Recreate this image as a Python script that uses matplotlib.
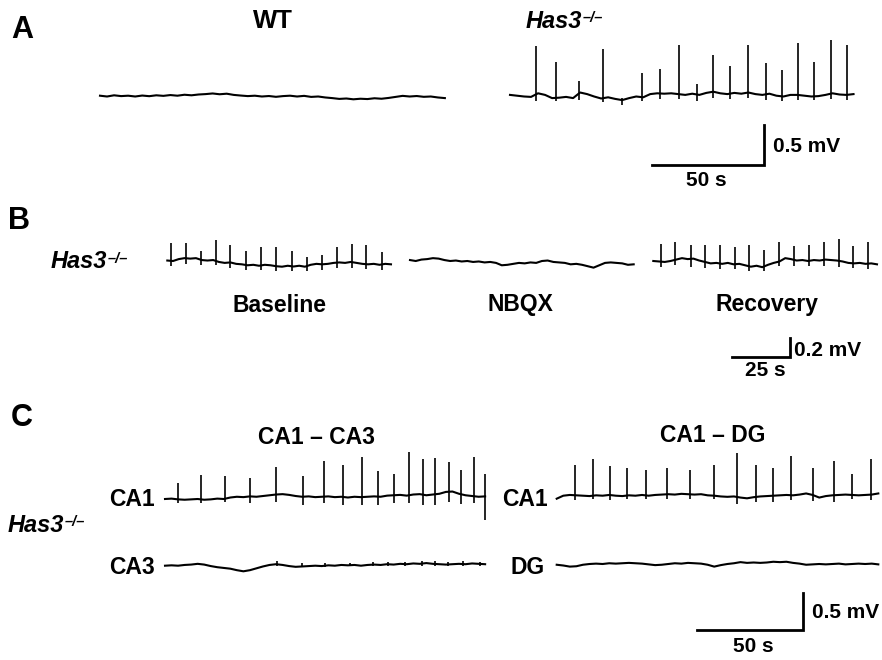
"""
Field potential traces: WT vs Has3-/- (A), NBQX block (B), CA1/CA3/DG pairs (C).
Traces are hand-read from the published figure (baseline samples + spike events).
"""
import numpy as np
import matplotlib
matplotlib.use("Agg")
import matplotlib.pyplot as plt

plt.rcParams["font.family"] = ["Liberation Sans", "DejaVu Sans"]
plt.rcParams["font.weight"] = "bold"

W, H = 882, 660

# ---------------- data (s, mV) ----------------
# Panel A
WT_DUR = 152.6
WT_BASE = [0.01, 0.00, 0.015, 0.005, 0.01, 0.0, 0.012, 0.004, 0.015, 0.008,
           0.018, 0.01, 0.022, 0.015, 0.025, 0.03, 0.038, 0.028, 0.035, 0.02,
           0.012, 0.005, 0.01, 0.0, 0.006, -0.004, 0.005, 0.01, 0.0, 0.008,
           -0.005, 0.0, -0.012, -0.02, -0.03, -0.025, -0.035, -0.028, -0.032, -0.022,
           -0.028, -0.018, -0.005, 0.008, 0.0, 0.006, -0.004, 0.0, -0.012, -0.02]

KO_A_DUR = 152.0
KO_A_BASE = [0.02, 0.01, 0.0, -0.005, 0.04, 0.02, -0.02, -0.015, -0.005, -0.02,
             0.05, 0.03, 0.0, -0.025, -0.01, -0.03, -0.045, -0.02, 0.0, -0.01,
             0.03, 0.04, 0.035, 0.04, 0.03, 0.02, 0.035, 0.02, 0.045, 0.06,
             0.04, 0.03, 0.045, 0.035, 0.05, 0.03, 0.02, 0.035, 0.01, 0.0,
             0.02, 0.02, 0.01, 0.0, 0.005, 0.02, 0.04, 0.025, 0.02, 0.03]
KO_A_T = [11.4, 20.2, 30.5, 41.0, 49.6, 58.4, 66.4, 74.8, 82.7, 90.0,
          97.3, 105.2, 113.4, 120.5, 127.3, 134.6, 142.2, 149.1]
KO_A_PEAK = [0.63, 0.43, 0.19, 0.59, -0.02, 0.30, 0.34, 0.64, 0.16, 0.52,
             0.38, 0.65, 0.42, 0.33, 0.67, 0.43, 0.71, 0.64]
KO_A_TROUGH = [-0.05, -0.06, -0.04, -0.07, -0.11, -0.05, -0.03, -0.03, -0.05, -0.02,
               -0.03, -0.02, -0.04, -0.05, -0.04, -0.04, -0.03, -0.04]

# Panel B
B_DUR = 96.0
B_BASELINE = [0.005, 0.0, 0.02, 0.03, 0.025, 0.03, 0.01, 0.005, 0.01, -0.01,
              -0.02, -0.015, -0.03, -0.035, -0.045, -0.04, -0.05, -0.04, -0.045, -0.055,
              -0.06, -0.05, -0.058, -0.05, -0.06, -0.04, -0.03, -0.035, -0.03, -0.02,
              -0.015, -0.02, -0.01, -0.02, -0.03, -0.035, -0.03, -0.04, -0.03, -0.035]
B_BASELINE_T = [1.6, 7.9, 14.6, 20.9, 27.0, 33.8, 40.2, 46.8, 53.4, 59.8,
                66.4, 72.7, 79.1, 85.3, 92.0]
B_BASELINE_PEAK = [0.19, 0.19, 0.11, 0.22, 0.17, 0.11, 0.15, 0.15, 0.11, 0.04,
                   0.06, 0.15, 0.175, 0.165, 0.095]
B_BASELINE_TROUGH = [-0.05, -0.03, -0.04, -0.04, -0.07, -0.09, -0.09, -0.1, -0.11, -0.1,
                     -0.09, -0.07, -0.07, -0.08, -0.09]

B_NBQX = [0.01, 0.0, 0.015, 0.02, 0.03, 0.025, 0.01, 0.0, 0.005, -0.005,
          0.0, -0.01, -0.005, -0.015, -0.01, -0.02, -0.045, -0.04, -0.03, -0.02,
          -0.025, -0.015, -0.02, 0.0, 0.005, -0.01, -0.015, -0.02, -0.035, -0.03,
          -0.04, -0.055, -0.07, -0.045, -0.02, -0.015, -0.02, -0.025, -0.04, -0.035]

B_RECOVERY = [0.0, -0.005, -0.01, 0.0, 0.015, 0.03, 0.02, 0.025, 0.005, -0.01,
              -0.025, -0.02, -0.03, -0.02, -0.035, -0.03, -0.045, -0.06, -0.05, -0.065,
              -0.04, -0.02, -0.005, 0.03, 0.02, 0.005, 0.01, 0.0, 0.01, 0.005,
              0.015, 0.01, 0.005, -0.005, -0.02, -0.025, -0.02, -0.03, -0.025, -0.035]
B_RECOVERY_T = [3.2, 9.4, 16.0, 22.3, 28.7, 35.0, 41.2, 47.5, 54.0, 60.4,
                66.9, 73.1, 79.7, 85.8, 92.2]
B_RECOVERY_PEAK = [0.18, 0.2, 0.17, 0.17, 0.17, 0.15, 0.17, 0.12, 0.2, 0.16,
                   0.17, 0.2, 0.23, 0.16, 0.2]
B_RECOVERY_TROUGH = [-0.06, -0.04, -0.06, -0.07, -0.08, -0.08, -0.1, -0.11, -0.05, -0.05,
                     -0.05, -0.05, -0.06, -0.07, -0.08]

# Panel C
C_DUR = 151.0
C_CA1_L = [0.0, 0.005, -0.005, -0.01, -0.005, 0.0, -0.01, -0.005, 0.005, 0.0,
           0.02, 0.03, 0.025, 0.035, 0.03, 0.04, 0.05, 0.06, 0.065, 0.055,
           0.04, 0.03, 0.035, 0.025, 0.03, 0.035, 0.025, 0.03, 0.02, 0.03,
           0.025, 0.03, 0.035, 0.03, 0.045, 0.05, 0.055, 0.045, 0.06, 0.065,
           0.05, 0.06, 0.07, 0.095, 0.1, 0.07, 0.05, 0.04, 0.03, 0.035]
C_CA1_L_T = [6.3, 16.8, 28.3, 40.1, 52.4, 65.0, 75.1, 84.0, 92.9, 100.6,
             108.2, 115.1, 121.6, 127.4, 133.8, 139.8, 145.6, 150.9]
C_CA1_L_PEAK = [0.22, 0.32, 0.31, 0.28, 0.43, 0.31, 0.51, 0.46, 0.56, 0.37,
                0.34, 0.63, 0.54, 0.55, 0.49, 0.39, 0.56, 0.33]
C_CA1_L_TROUGH = [-0.06, -0.06, -0.04, -0.06, -0.04, -0.08, -0.05, -0.08, -0.08, -0.08,
                  -0.06, -0.06, -0.08, -0.08, -0.04, -0.07, -0.06, -0.28]

C_CA3 = [0.0, 0.005, 0.0, 0.01, 0.015, 0.025, 0.015, -0.005, -0.02, -0.03,
         -0.04, -0.06, -0.075, -0.06, -0.035, -0.01, 0.01, 0.02, 0.01, -0.005,
         -0.015, -0.01, -0.005, 0.0, -0.005, 0.005, 0.0, 0.01, 0.005, 0.01,
         0.0, 0.01, 0.015, 0.01, 0.02, 0.015, 0.025, 0.02, 0.03, 0.025,
         0.035, 0.025, 0.02, 0.015, 0.02, 0.025, 0.02, 0.03, 0.025, 0.02]
C_CA3_T = [52.7, 64.5, 75.5, 87.3, 98.3, 105.3, 113.2, 121.1, 127.4, 133.6, 140.7, 148.6]
C_CA3_PEAK = [0.06, 0.03, 0.04, 0.04, 0.045, 0.05, 0.055, 0.06, 0.06, 0.055, 0.06, 0.055]
C_CA3_TROUGH = [0.0, -0.02, -0.02, -0.01, -0.01, 0.0, 0.0, 0.0, 0.0, 0.0, 0.0, 0.0]

C_DUR_R = 151.7
C_CA1_R = [-0.04, 0.0, 0.01, 0.005, 0.0, -0.005, 0.005, 0.0, 0.01, 0.0,
           -0.005, 0.005, 0.0, 0.01, 0.0, 0.01, 0.015, 0.02, 0.015, 0.025,
           0.02, 0.015, 0.02, 0.005, 0.0, -0.01, -0.015, -0.01, -0.025, -0.035,
           -0.02, -0.01, -0.005, 0.0, 0.005, 0.01, 0.005, 0.015, 0.03, 0.01,
           -0.025, -0.005, 0.005, 0.01, 0.015, 0.01, 0.005, 0.01, 0.015, 0.03]
C_CA1_R_T = [8.6, 17.1, 25.3, 33.3, 42.1, 51.9, 62.9, 74.2, 85.2, 94.0,
             102.2, 110.6, 121.1, 130.7, 139.5, 148.4]
C_CA1_R_PEAK = [0.41, 0.49, 0.40, 0.37, 0.34, 0.37, 0.34, 0.41, 0.57, 0.41,
                0.37, 0.53, 0.37, 0.47, 0.29, 0.49]
C_CA1_R_TROUGH = [-0.06, -0.05, -0.06, -0.05, -0.05, -0.04, -0.04, -0.05, -0.11, -0.09,
                  -0.08, -0.06, -0.07, -0.08, -0.04, -0.06]

C_DG = [-0.01, -0.02, -0.035, -0.03, -0.01, 0.0, 0.005, 0.0, 0.01, 0.005,
        0.01, 0.015, 0.01, 0.005, -0.005, -0.015, -0.01, 0.0, 0.01, 0.005,
        0.015, 0.01, 0.005, -0.01, -0.035, -0.015, 0.0, 0.01, 0.025, 0.015,
        0.02, 0.015, 0.02, 0.03, 0.025, 0.03, 0.015, 0.005, -0.01, -0.005,
        0.0, -0.005, 0.0, 0.005, -0.005, 0.0, 0.005, 0.0, 0.005, -0.005]

# scale bars (s, mV)
SCALE_A = (50, 0.5)
SCALE_B = (25, 0.2)
SCALE_C = (50, 0.5)

# ---------------- drawing ----------------
fig = plt.figure(figsize=(W / 100, H / 100), dpi=100)


def trace_axes(left, zero_y, dur, px_s, px_mv, lo=-0.3, hi=0.8):
    """Axes in s/mV units whose 0 mV line sits at pixel row zero_y."""
    w = dur * px_s
    h = (hi - lo) * px_mv
    bottom = zero_y - lo * px_mv
    ax = fig.add_axes([left / W, 1 - bottom / H, w / W, h / H])
    ax.set_xlim(0, dur)
    ax.set_ylim(lo, hi)
    ax.axis("off")
    ax.patch.set_visible(False)
    return ax


def draw_trace(ax, base, dur, spk_t=(), spk_peak=(), spk_trough=()):
    t = np.linspace(0, dur, len(base))
    ax.plot(t, base, color="black", lw=1.5, clip_on=False)
    if len(spk_t):
        ax.vlines(spk_t, spk_trough, spk_peak, color="black", lw=1.2, clip_on=False)


def draw_scalebar(corner_x, corner_y, scale, px_s, px_mv):
    sec, mv = scale
    ax = trace_axes(corner_x - sec * px_s, corner_y, sec, px_s, px_mv, lo=0, hi=mv)
    ax.plot([0, sec, sec], [0, 0, mv], color="black", lw=2.0,
            solid_joinstyle="miter", clip_on=False)


# A
PX_S_A, PX_MV_A = 2.26, 80
ax = trace_axes(100, 96.5, WT_DUR, PX_S_A, PX_MV_A)
draw_trace(ax, WT_BASE, WT_DUR)
ax = trace_axes(510, 96.5, KO_A_DUR, PX_S_A, PX_MV_A)
draw_trace(ax, KO_A_BASE, KO_A_DUR, KO_A_T, KO_A_PEAK, KO_A_TROUGH)
draw_scalebar(764.3, 165, SCALE_A, 2.25, PX_MV_A)

# B
PX_S_B, PX_MV_B = 2.33, 95
ax = trace_axes(167.3, 261, B_DUR, PX_S_B, PX_MV_B)
draw_trace(ax, B_BASELINE, B_DUR, B_BASELINE_T, B_BASELINE_PEAK, B_BASELINE_TROUGH)
ax = trace_axes(410, 261, B_DUR, PX_S_B, PX_MV_B)
draw_trace(ax, B_NBQX, B_DUR)
ax = trace_axes(653.3, 261, B_DUR, PX_S_B, PX_MV_B)
draw_trace(ax, B_RECOVERY, B_DUR, B_RECOVERY_T, B_RECOVERY_PEAK, B_RECOVERY_TROUGH)
draw_scalebar(790, 356.7, SCALE_B, PX_S_B, PX_MV_B)

# C
PX_S_C, PX_MV_C = 2.12, 74.7
ax = trace_axes(165, 499, C_DUR, PX_S_C, PX_MV_C)
draw_trace(ax, C_CA1_L, C_DUR, C_CA1_L_T, C_CA1_L_PEAK, C_CA1_L_TROUGH)
ax = trace_axes(165, 565.7, C_DUR, PX_S_C, PX_MV_C)
draw_trace(ax, C_CA3, C_DUR, C_CA3_T, C_CA3_PEAK, C_CA3_TROUGH)
ax = trace_axes(556.7, 495.7, C_DUR_R, PX_S_C, PX_MV_C)
draw_trace(ax, C_CA1_R, C_DUR_R, C_CA1_R_T, C_CA1_R_PEAK, C_CA1_R_TROUGH)
ax = trace_axes(556.7, 564, C_DUR_R, PX_S_C, PX_MV_C)
draw_trace(ax, C_DG, C_DUR_R)
draw_scalebar(803.3, 630, SCALE_C, PX_S_C, PX_MV_C)

# ---------------- text overlay (pixel coords) ----------------
tx = fig.add_axes([0, 0, 1, 1])
tx.set_xlim(0, W)
tx.set_ylim(H, 0)
tx.axis("off")
tx.patch.set_visible(False)

LBL = dict(fontsize=16.5, fontweight="bold", va="center")
for letter, x, y in [("A", 22, 30), ("B", 19, 221), ("C", 21.5, 417.5)]:
    tx.text(x, y, letter, fontsize=22, fontweight="bold", ha="center", va="center")


def genotype(x, y):
    t = tx.text(x, y, "Has3", fontsize=17, fontweight="bold", style="italic",
                ha="left", va="center")
    tx.annotate("–/–", xy=(1, 1), xycoords=t, xytext=(0.5, -1), textcoords="offset points",
                fontsize=10.5, fontweight="bold", style="italic", ha="left", va="top")


tx.text(273, 21.5, "WT", ha="center", fontsize=18.5, fontweight="bold", va="center")
genotype(526, 21.5)
genotype(51, 262)
genotype(8, 525)

for s, x in [("Baseline", 279), ("NBQX", 520), ("Recovery", 767)]:
    tx.text(x, 305, s, ha="center", **LBL)

tx.text(316, 437, "CA1 – CA3", ha="center", **LBL)
tx.text(713, 435, "CA1 – DG", ha="center", **LBL)
tx.text(155, 499, "CA1", ha="right", **LBL)
tx.text(155, 568, "CA3", ha="right", **LBL)
tx.text(548, 500, "CA1", ha="right", **LBL)
tx.text(545, 568, "DG", ha="right", **LBL)

SB = dict(fontsize=15, fontweight="bold", va="center")
tx.text(773, 146.7, "0.5 mV", ha="left", **SB)
tx.text(706, 180, "50 s", ha="center", **SB)
tx.text(794, 350, "0.2 mV", ha="left", **SB)
tx.text(765, 371, "25 s", ha="center", **SB)
tx.text(811.5, 612, "0.5 mV", ha="left", **SB)
tx.text(753, 646, "50 s", ha="center", **SB)

fig.savefig("out.png", dpi=100, facecolor="white")
